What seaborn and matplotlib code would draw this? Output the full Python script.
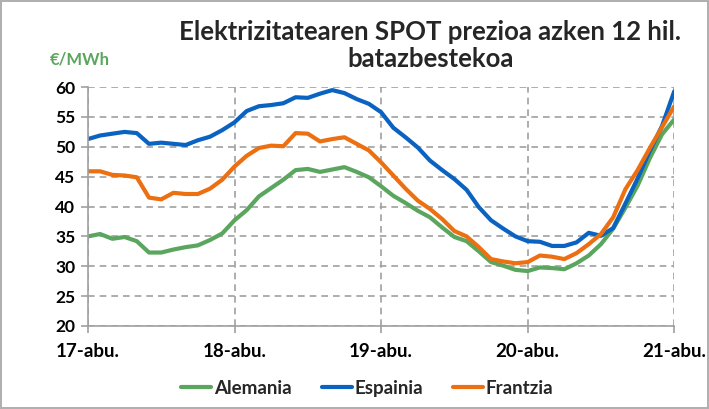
import numpy as np
import pandas as pd
import matplotlib
matplotlib.use("Agg")
import matplotlib.pyplot as plt
import seaborn as sns

# 2-hourly values, 17-abu. 00:00 -> 21-abu. 00:00
hours = np.arange(0, 97, 2)

alemania = [35.0, 35.4, 34.6, 34.9, 34.2, 32.3, 32.3, 32.8, 33.2, 33.5, 34.4, 35.5,
            37.7, 39.4, 41.7, 43.1, 44.5, 46.1, 46.3, 45.8, 46.2, 46.6, 45.8, 44.9,
            43.4, 41.8, 40.6, 39.3, 38.2, 36.5, 34.9, 34.2, 32.5, 30.7, 30.1, 29.4,
            29.2, 29.8, 29.7, 29.5, 30.5, 31.8, 33.7, 36.3, 39.8, 43.5, 48.1, 52.1,
            54.6]
espainia = [51.3, 51.9, 52.2, 52.5, 52.3, 50.5, 50.7, 50.5, 50.3, 51.1, 51.7, 52.8,
            54.1, 56.0, 56.8, 57.0, 57.3, 58.3, 58.2, 58.9, 59.5, 59.0, 58.0, 57.2,
            55.8, 53.2, 51.6, 49.9, 47.7, 46.1, 44.6, 42.8, 39.9, 37.7, 36.3, 35.0,
            34.2, 34.1, 33.4, 33.4, 34.0, 35.6, 35.1, 36.4, 40.5, 44.7, 49.3, 53.5,
            59.3]
frantzia = [45.9, 45.9, 45.3, 45.2, 44.9, 41.5, 41.2, 42.3, 42.1, 42.1, 43.0, 44.5,
            46.7, 48.5, 49.8, 50.2, 50.1, 52.3, 52.2, 50.9, 51.3, 51.6, 50.5, 49.4,
            47.4, 45.2, 43.0, 41.0, 39.6, 37.9, 35.9, 35.0, 33.2, 31.2, 30.8, 30.5,
            30.7, 31.8, 31.6, 31.2, 32.2, 33.7, 35.4, 38.2, 42.9, 46.1, 49.8, 53.3,
            56.8]

day_labels = ["17-abu.", "18-abu.", "19-abu.", "20-abu.", "21-abu."]
series = ["Alemania", "Espainia", "Frantzia"]
colors = {"Alemania": "#5ba65f", "Espainia": "#0a63c0", "Frantzia": "#ec6f12"}

df = pd.DataFrame({"hour": hours, "Alemania": alemania,
                   "Espainia": espainia, "Frantzia": frantzia})
long = df.melt(id_vars="hour", var_name="herria", value_name="prezioa")

sns.set_theme(style="white")
plt.rcParams["font.family"] = ["Lato", "DejaVu Sans"]

fig = plt.figure(figsize=(7.09, 4.09), dpi=100, edgecolor="#b0b0b0", linewidth=1.5)
ax = fig.add_axes([0.124, 0.203, 0.827, 0.584])

sns.lineplot(data=long, x="hour", y="prezioa", hue="herria", hue_order=series,
             palette=colors, linewidth=3, ax=ax, legend=False)

ax.set_xlim(0, 96)
ax.set_ylim(20, 60)
ax.set_xticks(np.arange(0, 97, 24))
ax.set_xticklabels(day_labels, fontsize=13.5, fontweight="bold")
ax.set_yticks(np.arange(20, 61, 5))
ax.set_yticklabels([str(v) for v in range(20, 61, 5)], fontsize=12.5, fontweight="bold")
ax.set_xlabel("")
ax.set_ylabel("")

ax.grid(True, color="#a0a0a0", linestyle=(0, (4, 3)), linewidth=1.2)
ax.set_axisbelow(True)
for s in ["top", "right"]:
    ax.spines[s].set_visible(False)
for s in ["left", "bottom"]:
    ax.spines[s].set_color("#a0a0a0")
    ax.spines[s].set_linewidth(1.2)
ax.tick_params(axis="both", direction="out", length=5, color="#a0a0a0", width=1.2,
               labelcolor="black", pad=4)
ax.tick_params(axis="x", pad=7)
ax.tick_params(left=True, bottom=True)

fig.text(0.607, 0.888, "Elektrizitatearen SPOT prezioa azken 12 hil.\nbatazbestekoa",
         ha="center", va="center", fontsize=18.5, fontweight="bold", linespacing=1.15)
fig.text(0.113, 0.855, "€/MWh", ha="center", va="center", fontsize=12,
         fontweight="bold", color="#5ba65f")

handles = [plt.Line2D([], [], color=colors[s], linewidth=3) for s in series]
fig.legend(handles, series, loc="center", bbox_to_anchor=(0.518, 0.051), ncol=3,
           frameon=False, prop={"weight": "bold", "size": 13.5}, handlelength=1.6,
           handletextpad=0.15, columnspacing=1.6)

fig.savefig("out.png", dpi=100, edgecolor=fig.get_edgecolor())
